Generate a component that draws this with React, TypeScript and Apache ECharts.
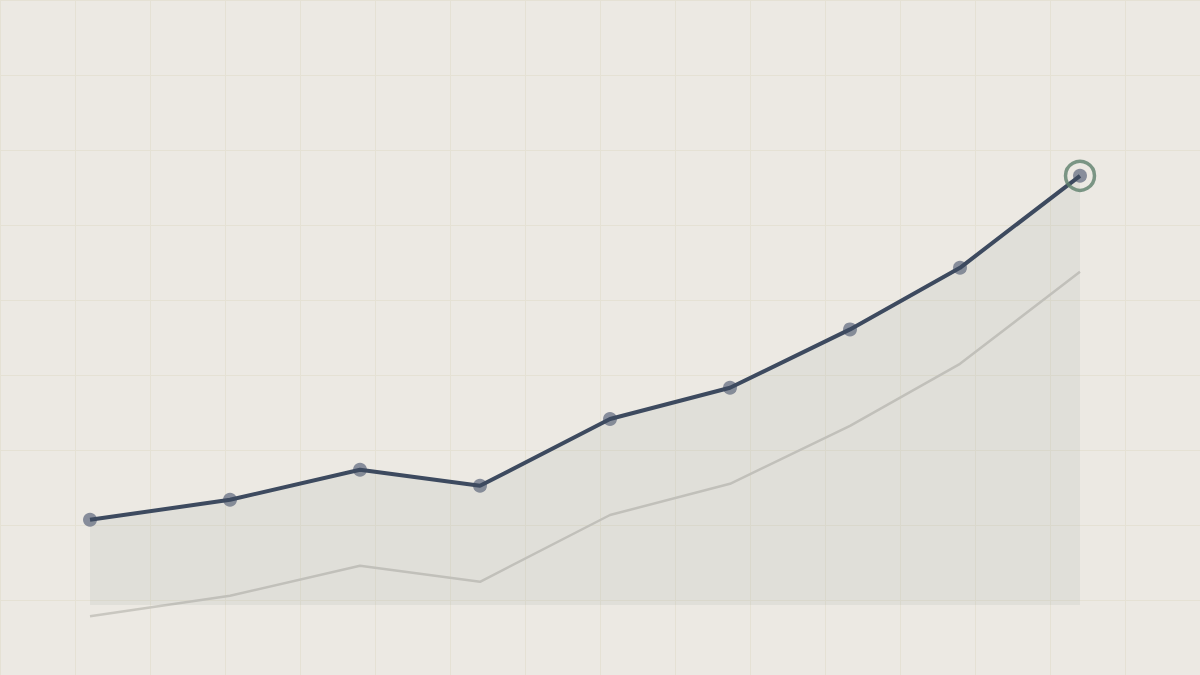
import React, { useEffect, useRef } from "react";
import * as echarts from "echarts";

// x positions (time units) and values
const xValues = [0, 14, 27, 39, 52, 64, 76, 87, 99];
const mainValues = [21.3, 26.3, 33.8, 29.8, 46.5, 54.3, 68.9, 84.3, 107.3];
const ghostValues = [-2.8, 2.3, 9.8, 5.8, 22.5, 30.3, 44.8, 60.3, 83.3];

export default function App() {
  const ref = useRef<HTMLDivElement>(null);
  useEffect(() => {
    document.body.style.margin = "0";
    if (!ref.current) return;
    const chart = echarts.init(ref.current, undefined, { renderer: "svg" });
    const mainData = xValues.map((x, i) => [x, mainValues[i]]);
    const ghostData = xValues.map((x, i) => [x, ghostValues[i]]);
    const last = mainData[mainData.length - 1];
    const hidden = {
      axisLine: { show: false },
      axisTick: { show: false },
      axisLabel: { show: false },
    };
    chart.setOption({
      animation: false,
      backgroundColor: "#ECE9E3",
      grid: [
        { left: 0, right: 0, top: 0, bottom: 0 },
        { left: 0, right: 0, top: 0, bottom: 0 },
      ],
      xAxis: [
        {
          type: "value", gridIndex: 0, min: 0, max: 1200, interval: 75, ...hidden,
          splitLine: { show: true, lineStyle: { color: "#E5E1D4", width: 1 } },
        },
        { type: "value", gridIndex: 1, min: -9, max: 111, ...hidden, splitLine: { show: false } },
      ],
      yAxis: [
        {
          type: "value", gridIndex: 0, min: 0, max: 675, interval: 75, ...hidden,
          splitLine: { show: true, lineStyle: { color: "#E5E1D4", width: 1 } },
        },
        { type: "value", gridIndex: 1, min: -17.5, max: 151.25, ...hidden, splitLine: { show: false } },
      ],
      series: [
        {
          type: "line", xAxisIndex: 1, yAxisIndex: 1, data: ghostData, showSymbol: false,
          lineStyle: { color: "#C9C7C0", width: 2.5 }, z: 2, silent: true,
        },
        {
          type: "scatter", xAxisIndex: 1, yAxisIndex: 1, data: mainData, symbolSize: 14,
          itemStyle: { color: "#6E7688" }, z: 2, silent: true,
        },
        {
          type: "line", xAxisIndex: 1, yAxisIndex: 1, data: mainData, showSymbol: false,
          lineStyle: { color: "#3D4A5F", width: 4 },
          areaStyle: { color: "rgba(120,130,130,0.14)", origin: 0 },
          z: 3, silent: true,
        },
        {
          type: "scatter", xAxisIndex: 1, yAxisIndex: 1, data: [last], symbolSize: 29,
          itemStyle: { color: "transparent", borderColor: "#5E7F6B", borderWidth: 3.5 },
          z: 4, silent: true,
        },
      ],
    });
    return () => chart.dispose();
  }, []);
  return <div ref={ref} style={{ width: 1200, height: 675 }} />;
}
